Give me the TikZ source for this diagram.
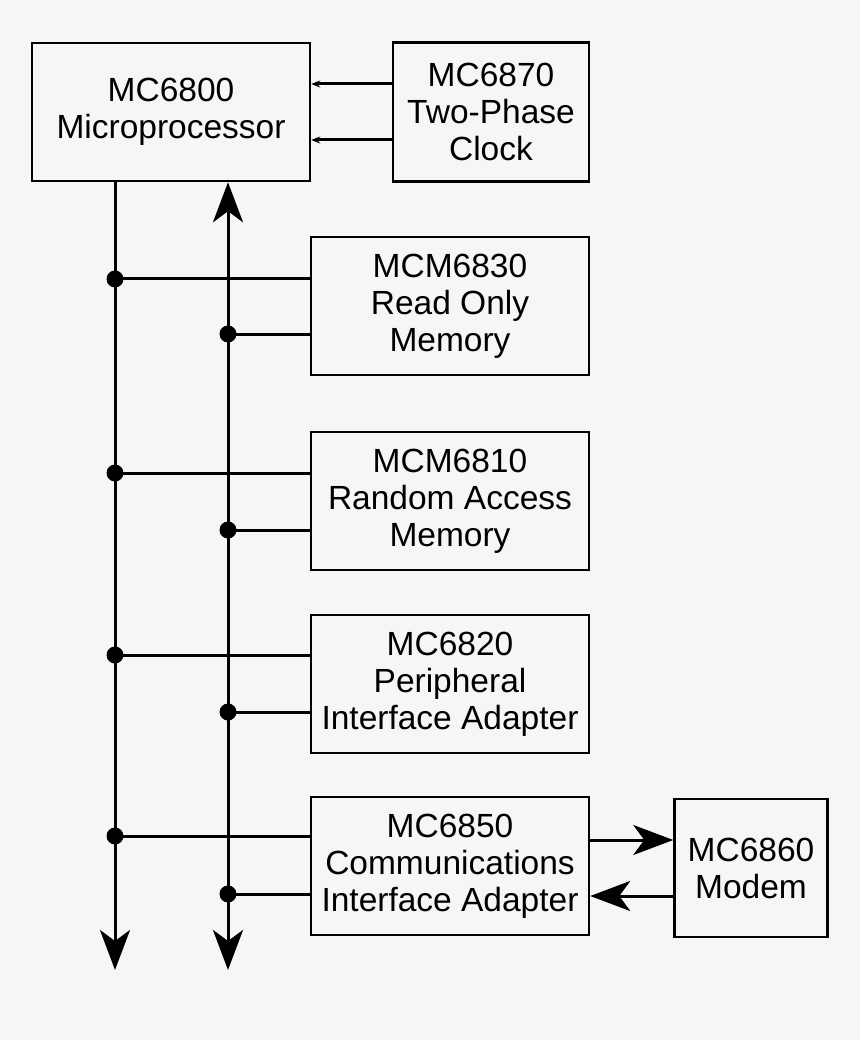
\documentclass[tikz,border=0pt]{standalone}
\usepackage{fontspec}
\setmainfont{Liberation Sans}
\usetikzlibrary{arrows.meta}
\definecolor{paper}{RGB}{246,246,246}
\tikzset{
  chip/.style={draw,line width=2.5pt,align=center,inner sep=0pt,
    minimum width=278pt,minimum height=138pt,font=\fontsize{33.5}{37}\selectfont},
  bus/.style={line width=3pt},
  tap/.style={circle,fill,inner sep=0pt,minimum size=17pt},
  head/.tip={Stealth[length=40pt,width=30pt,inset=11pt]},
  big/.style={-head},
  small/.style={-{Stealth[length=9pt,width=7pt]}}
}
\begin{document}
\begin{tikzpicture}[x=1pt,y=-1pt]
        \fill[paper] (0,0) rectangle (860,1040);
        \useasboundingbox (0,0) rectangle (860,1040);
        \node[chip] (cpu) at (171,112) {MC6800\\Microprocessor};
        \node[chip,minimum width=196pt,minimum height=139pt] (clk) at (491,112) {MC6870\\Two-Phase\\Clock};
        \node[chip] (rom) at (450,306) {MCM6830\\Read Only\\Memory};
        \node[chip] (ram) at (450,501) {MCM6810\\Random Access\\Memory};
        \node[chip] (pia) at (450,684) {MC6820\\Peripheral\\Interface Adapter};
        \node[chip] (acia) at (450,866) {MC6850\\Communications\\Interface Adapter};
        \node[chip,minimum width=153pt] (modem) at (751,868) {MC6860\\Modem};

        \coordinate (aend) at (115,970);
        \coordinate (dend) at (228,970);
        \draw[bus,big] (cpu.south -| aend) -- (aend);
        \draw[bus,head-head] (cpu.south -| dend) -- (dend);

        \foreach \c/\ya/\yd in {rom/279/334, ram/473/530, pia/655/712, acia/836/894} {
          \node[tap] (a\c) at (115,\ya) {};
          \node[tap] (d\c) at (228,\yd) {};
          \draw[bus] (a\c.center) -- (a\c.center -| \c.west);
          \draw[bus] (d\c.center) -- (d\c.center -| \c.west);
        }

        \draw[bus,small] (clk.west |- 0,84) -- (cpu.east |- 0,84);
        \draw[bus,small] (clk.west |- 0,140) -- (cpu.east |- 0,140);
        \draw[bus,big] (acia.east |- 0,840) -- (modem.west |- 0,840);
        \draw[bus,big] (modem.west |- 0,896) -- (acia.east |- 0,896);
\end{tikzpicture}
\end{document}
